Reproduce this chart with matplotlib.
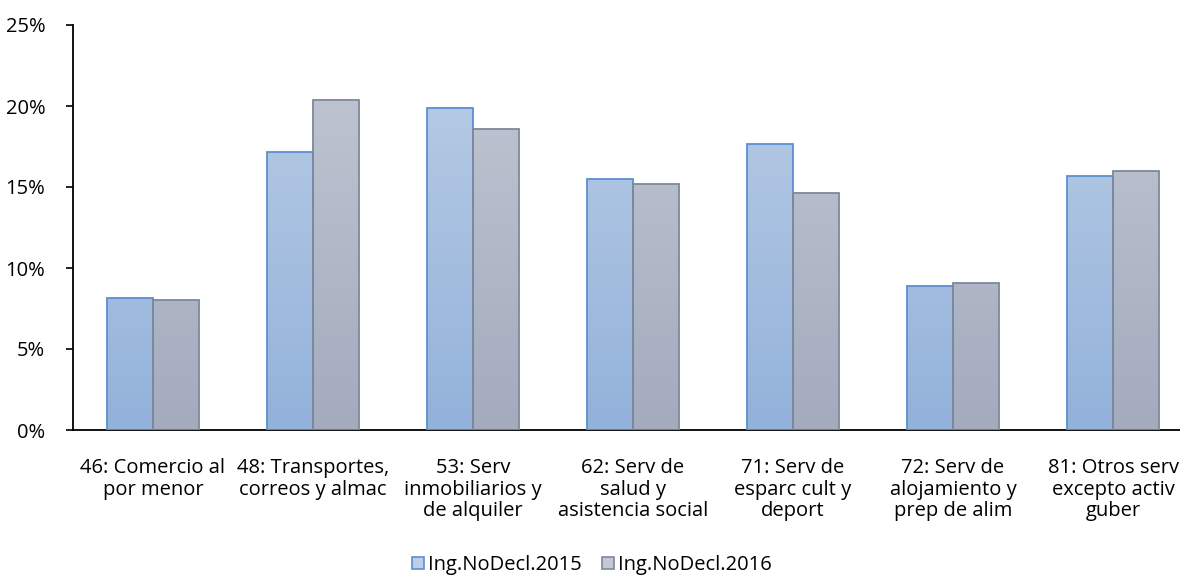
import numpy as np
import matplotlib.pyplot as plt
from matplotlib.colors import LinearSegmentedColormap
from matplotlib.patches import Patch

categories = [
    "46: Comercio al\npor menor",
    "48: Transportes,\ncorreos y almac",
    "53: Serv\ninmobiliarios y\nde alquiler",
    "62: Serv de\nsalud y\nasistencia social",
    "71: Serv de\nesparc cult y\ndeport",
    "72: Serv de\nalojamiento y\nprep de alim",
    "81: Otros serv\nexcepto activ\nguber",
]
ing_2015 = [8.15, 17.15, 19.9, 15.5, 17.65, 8.9, 15.65]
ing_2016 = [8.0, 20.4, 18.55, 15.2, 14.65, 9.1, 16.0]
series_names = ["Ing.NoDecl.2015", "Ing.NoDecl.2016"]

plt.rcParams["font.family"] = ["Open Sans", "DejaVu Sans"]
fs = 14.5

fig = plt.figure(figsize=(11.8, 5.8), dpi=100)
ax = fig.add_axes([73 / 1180, 150 / 580, 1120 / 1180, 405 / 580])

styles = [
    dict(top="#bccfe7", bottom="#93b2da", edge="#5b8fcf"),
    dict(top="#c3c8d4", bottom="#a3abbd", edge="#7d889e"),
]
w = 0.2875
x = np.arange(len(categories))
for k, vals in enumerate([ing_2015, ing_2016]):
    st = styles[k]
    cmap = LinearSegmentedColormap.from_list("g%d" % k, [st["bottom"], st["top"]])
    grad = np.linspace(0, 1, 256).reshape(-1, 1)
    for xi, v in zip(x, vals):
        left = xi - w + k * w
        im = ax.imshow(grad, cmap=cmap, origin="lower", aspect="auto",
                       extent=(left, left + w, 0, 25), zorder=2)
        ax.add_patch(plt.Rectangle((left, 0), w, v, facecolor="none",
                                   edgecolor=st["edge"], linewidth=1.3, zorder=3))
        im.set_clip_path(plt.Rectangle((left, 0), w, v, transform=ax.transData))

ax.set_xlim(-0.5, len(categories) - 0.5)
ax.set_ylim(0, 25)
ax.set_yticks([0, 5, 10, 15, 20, 25])
ax.set_yticklabels(["0%", "5%", "10%", "15%", "20%", "25%"], fontsize=fs)
ax.set_xticks(x)
ax.set_xticklabels(categories, fontsize=fs, linespacing=1.12)
ax.tick_params(axis="x", length=0, pad=20)
ax.tick_params(axis="y", length=5, width=1.2, pad=15, direction="out")

for s in ["top", "right"]:
    ax.spines[s].set_visible(False)
for s in ["left", "bottom"]:
    ax.spines[s].set_linewidth(1.3)
    ax.spines[s].set_color("black")

handles = [Patch(facecolor=styles[i]["top"], edgecolor=styles[i]["edge"], linewidth=1.2)
           for i in range(2)]
fig.legend(handles, series_names, loc="center", bbox_to_anchor=(592 / 1180, 1 - 565 / 580),
           ncol=2, frameon=False, fontsize=fs, handlelength=0.6, handleheight=0.6,
           handletextpad=0.2, columnspacing=1.0)

fig.savefig("out.png", dpi=100)
